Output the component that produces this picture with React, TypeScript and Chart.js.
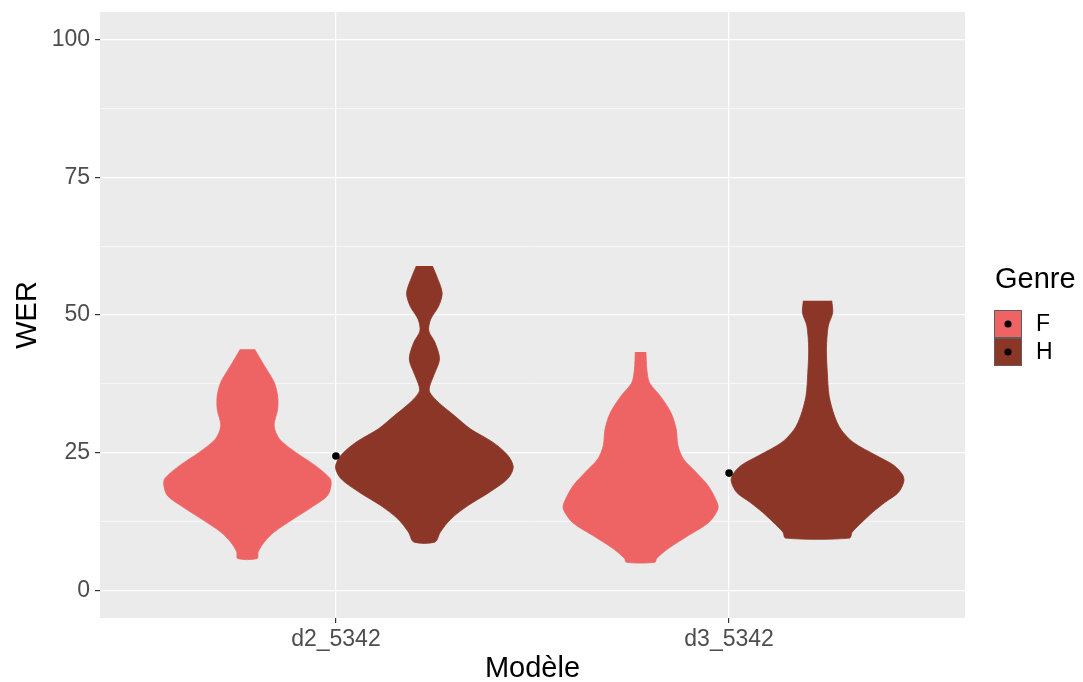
import React, { useEffect, useRef } from "react";
import { Chart, registerables } from "chart.js";

Chart.register(...registerables);

// ---------- data ----------
const categories = ["d2_5342", "d3_5342"];
const genres = ["F", "H"];
const genreColors = ["#EE6464", "#8B3627"];

// Violin outlines: WER values (top -> bottom) and relative half-widths (density, 0..1)
const fD2Y = [43.8, 40.8, 37.8, 35.3, 32.9, 29.9, 27.5, 25.1, 22.7, 20.3, 19.0, 17.2, 15.4, 13.0, 10.6, 8.8, 7.0, 5.8];
const fD2W = [0.08, 0.19, 0.3, 0.34, 0.34, 0.3, 0.36, 0.54, 0.76, 0.93, 0.94, 0.9, 0.75, 0.52, 0.3, 0.19, 0.12, 0.11];

const hD2Y = [58.9, 57.0, 54.0, 51.6, 49.2, 47.1, 45.0, 42.0, 39.2, 37.1, 36.0, 34.1, 31.7, 29.3, 26.9, 24.5, 22.4, 20.3, 17.8, 15.4, 13.0, 10.6, 8.8];
const hD2W = [0.09, 0.14, 0.2, 0.16, 0.07, 0.05, 0.12, 0.17, 0.11, 0.06, 0.06, 0.16, 0.34, 0.52, 0.77, 0.94, 1.0, 0.94, 0.73, 0.49, 0.3, 0.18, 0.12];

const fD3Y = [43.3, 40.1, 37.7, 35.3, 32.3, 29.3, 26.3, 23.9, 21.5, 19.0, 16.0, 14.8, 12.4, 10.0, 7.6, 5.8, 5.1];
const fD3W = [0.06, 0.07, 0.1, 0.22, 0.34, 0.4, 0.42, 0.48, 0.62, 0.76, 0.86, 0.87, 0.77, 0.54, 0.31, 0.18, 0.16];

const hD3Y = [52.6, 50.4, 48.0, 43.8, 39.5, 35.3, 31.7, 29.3, 26.9, 24.5, 22.7, 20.9, 19.7, 17.8, 16.0, 14.2, 12.4, 10.6, 9.5];
const hD3W = [0.16, 0.17, 0.12, 0.1, 0.11, 0.13, 0.19, 0.26, 0.4, 0.66, 0.86, 0.96, 0.97, 0.91, 0.76, 0.62, 0.5, 0.39, 0.36];

// mean WER per model (black points)
const meanWER = [24.4, 21.3];

const yMajorTicks = [0, 25, 50, 75, 100];
const yMinorTicks = [12.5, 37.5, 62.5, 87.5];

// ---------- layout constants ----------
const W = 1083;
const H = 682;
const DODGE = 0.225;
const HALF = 0.226;
const TICK_FONT = "Liberation Sans, Arial, sans-serif";

function outline(cat: number, off: number, ys: number[], ws: number[]) {
  const c = cat + off;
  const right = ys.map((y, i) => ({ x: c + ws[i] * HALF, y }));
  const left = ys.map((y, i) => ({ x: c - ws[i] * HALF, y })).reverse();
  return [...right, ...left];
}

const violins = [
  { cat: 1, g: 0, ys: fD2Y, ws: fD2W },
  { cat: 1, g: 1, ys: hD2Y, ws: hD2W },
  { cat: 2, g: 0, ys: fD3Y, ws: fD3W },
  { cat: 2, g: 1, ys: hD3Y, ws: hD3W },
];

const panelBg = {
  id: "panelBg",
  beforeDraw(chart: any) {
    const { ctx, chartArea: a } = chart;
    ctx.save();
    ctx.fillStyle = "#EBEBEB";
    ctx.fillRect(a.left, a.top, a.right - a.left, a.bottom - a.top);
    ctx.restore();
  },
};

const annotations = {
  id: "annotations",
  afterDraw(chart: any) {
    const { ctx, chartArea: a } = chart;
    ctx.save();
    // axis titles
    ctx.fillStyle = "#000000";
    ctx.font = `29px ${TICK_FONT}`;
    ctx.textAlign = "center";
    ctx.textBaseline = "alphabetic";
    ctx.fillText("Modèle", (a.left + a.right) / 2, 677);
    ctx.save();
    ctx.translate(36, (a.top + a.bottom) / 2);
    ctx.rotate(-Math.PI / 2);
    ctx.fillText("WER", 0, 0);
    ctx.restore();

    // legend
    ctx.textAlign = "left";
    ctx.fillText("Genre", 995, 288);
    const kx = 994;
    const ky = 310;
    const ks = 28;
    genres.forEach((g, i) => {
      const y0 = ky + i * ks;
      ctx.fillStyle = genreColors[i];
      ctx.fillRect(kx, y0, ks, ks);
      ctx.strokeStyle = "#5E5E5E";
      ctx.lineWidth = 1;
      ctx.strokeRect(kx + 0.5, y0 + 0.5, ks - 1, ks - 1);
      ctx.fillStyle = "#000000";
      ctx.beginPath();
      ctx.arc(kx + ks / 2, y0 + ks / 2, 3.6, 0, Math.PI * 2);
      ctx.fill();
      ctx.font = `23px ${TICK_FONT}`;
      ctx.textBaseline = "middle";
      ctx.fillText(g, 1036, y0 + ks / 2 + 1);
    });
    ctx.restore();
  },
};

export default function App() {
  const ref = useRef<HTMLCanvasElement | null>(null);

  useEffect(() => {
    if (!ref.current) return;
    const datasets: any[] = [
      {
        type: "scatter",
        label: "mean",
        data: meanWER.map((v, i) => ({ x: i + 1, y: v })),
        backgroundColor: "#000000",
        borderWidth: 0,
        pointRadius: 3.8,
        pointHoverRadius: 3.8,
        order: 0,
      },
      ...violins.map((v) => ({
        type: "line",
        label: `${genres[v.g]} ${categories[v.cat - 1]}`,
        data: outline(v.cat, v.g === 0 ? -DODGE : DODGE, v.ys, v.ws),
        backgroundColor: genreColors[v.g],
        borderColor: genreColors[v.g],
        borderWidth: 0.8,
        fill: "shape",
        tension: 0.3,
        pointRadius: 0,
        pointHoverRadius: 0,
        order: 1,
      })),
    ];

    const chart = new Chart(ref.current, {
      type: "line",
      data: { datasets },
      plugins: [panelBg, annotations],
      options: {
        animation: false,
        responsive: false,
        events: [],
        layout: { padding: { top: 12, right: 118, left: 0, bottom: 0 } },
        plugins: {
          legend: { display: false },
          tooltip: { enabled: false },
          title: { display: false },
        },
        scales: {
          x: {
            type: "linear",
            min: 0.4,
            max: 2.6,
            afterBuildTicks: (s: any) => {
              s.ticks = categories.map((_, i) => ({ value: i + 1 }));
            },
            afterFit: (s: any) => {
              s.height = 64;
              s.paddingLeft = 0;
              s.paddingRight = 0;
            },
            border: { display: false },
            grid: {
              color: "#FFFFFF",
              lineWidth: 1.2,
              drawTicks: true,
              tickLength: 5,
              tickColor: "#333333",
            },
            ticks: {
              autoSkip: false,
              maxRotation: 0,
              padding: 3,
              color: "#4D4D4D",
              font: { family: TICK_FONT, size: 23 },
              callback: (v: any) => categories[Math.round(v) - 1] ?? "",
            },
          },
          y: {
            type: "linear",
            min: -5,
            max: 105,
            afterBuildTicks: (s: any) => {
              s.ticks = [...yMajorTicks, ...yMinorTicks]
                .sort((a, b) => a - b)
                .map((v) => ({ value: v }));
            },
            afterFit: (s: any) => {
              s.width = 100;
              s.paddingTop = 0;
              s.paddingBottom = 0;
            },
            border: { display: false },
            grid: {
              color: "#FFFFFF",
              lineWidth: (c: any) =>
                c.tick && yMajorTicks.includes(c.tick.value) ? 1.2 : 0.6,
              drawTicks: true,
              tickLength: 5,
              tickColor: (c: any) =>
                c.tick && yMajorTicks.includes(c.tick.value) ? "#333333" : "rgba(0,0,0,0)",
            },
            ticks: {
              autoSkip: false,
              padding: 5,
              color: "#4D4D4D",
              font: { family: TICK_FONT, size: 23 },
              callback: (v: any) => (yMajorTicks.includes(v) ? String(v) : ""),
            },
          },
        },
      } as any,
    });
    return () => chart.destroy();
  }, []);

  return (
    <div style={{ position: "fixed", left: 0, top: 0, width: W, height: H, background: "#FFFFFF" }}>
      <canvas ref={ref} width={W} height={H} style={{ display: "block", width: W, height: H }} />
    </div>
  );
}
